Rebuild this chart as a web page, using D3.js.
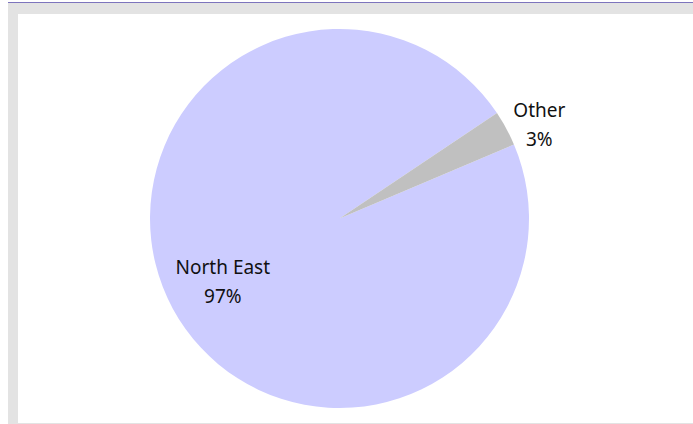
<!DOCTYPE html>
<html>
<head>
<meta charset="utf-8">
<script src="https://cdn.jsdelivr.net/npm/d3@7"></script>
<style>
  body { margin: 0; background: #fff; }
  svg { display: block; }
</style>
</head>
<body>
<svg id="chart"></svg>
<script>
const regions = ["North East", "Other"];
const shares = [97, 3];
const sliceColors = ["#ccccff", "#c0c0c0"];

const width = 693, height = 424;
const svg = d3.select("#chart").attr("width", width).attr("height", height);

// window frame
svg.append("rect").attr("x", 8).attr("y", 3).attr("width", width - 8).attr("height", height - 3).attr("fill", "#e3e3e3");
svg.append("rect").attr("x", 8).attr("y", 2).attr("width", width - 8).attr("height", 1).attr("fill", "#7d74bd");
svg.append("rect").attr("x", 18).attr("y", 14).attr("width", width - 18).attr("height", height - 15).attr("fill", "#fff");

const cx = 339.5, cy = 218.5, R = 189.5;
const data = regions.map((r, i) => ({ region: r, value: shares[i], color: sliceColors[i] }));

const start = 67 * Math.PI / 180;
const pie = d3.pie().sort(null).value(d => d.value).startAngle(start).endAngle(start + 2 * Math.PI);
const arcs = pie(data);
const arc = d3.arc().innerRadius(0).outerRadius(R);

const g = svg.append("g").attr("transform", `translate(${cx},${cy})`);
g.selectAll("path.slice")
  .data(arcs)
  .enter().append("path")
  .attr("class", "slice")
  .attr("d", arc)
  .attr("fill", d => d.data.color);

const fmt = d3.format(".0%");
const total = d3.sum(shares);
const insideArc = d3.arc().innerRadius(R * 0.7).outerRadius(R * 0.7);
const outsideArc = d3.arc().innerRadius(R + 8).outerRadius(R + 8);

arcs.forEach(d => {
  const big = d.data.value / total > 0.1;
  const p = big ? insideArc.centroid(d) : outsideArc.centroid(d);
  const t = g.append("text")
    .attr("text-anchor", "middle")
    .attr("font-family", "'Noto Sans', sans-serif")
    .attr("font-size", 19)
    .attr("fill", "#111");
  t.append("tspan").attr("x", 0).attr("dy", "-0.5em").text(d.data.region);
  t.append("tspan").attr("x", 0).attr("dy", "1.53em").text(fmt(d.data.value / total));
  let x = p[0];
  if (!big) x += t.node().getBBox().width / 2;
  t.attr("transform", `translate(${x},${p[1] + 2})`);
});
</script>
</body>
</html>
